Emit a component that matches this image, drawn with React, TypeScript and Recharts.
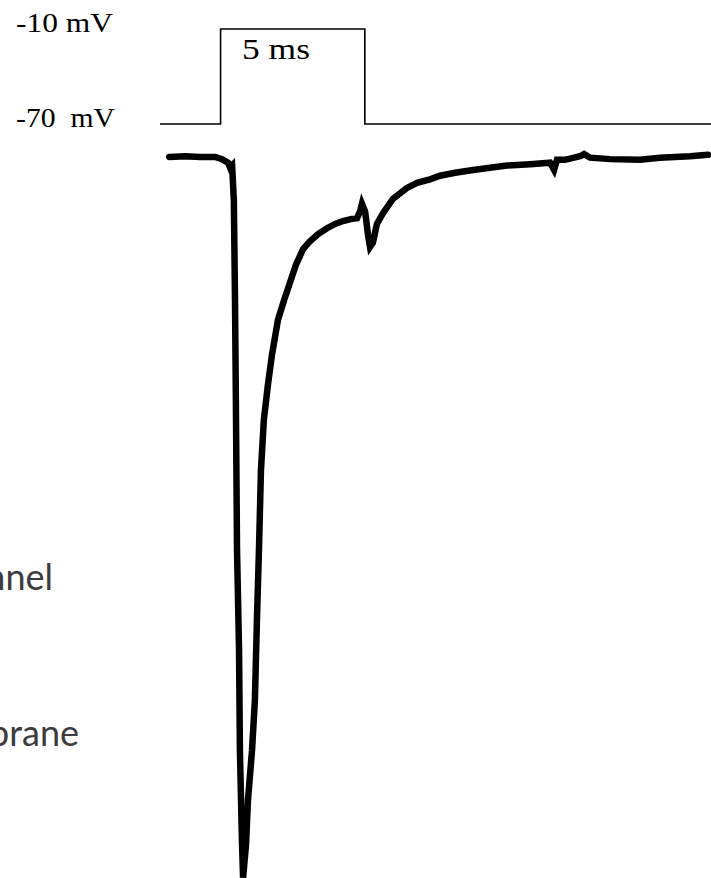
import { LineChart, Line, XAxis, YAxis } from 'recharts'

// voltage step protocol: holding -70 mV, 5 ms step to -10 mV (time in ms)
const stepTime = [-2.1, 0, 0, 5, 5, 17]
const stepVoltage = [-70, -70, -10, -10, -70, -70]

// evoked membrane current (pA) sampled along the same time base
const traceTime = [
  -1.78, -1.23, -0.71, -0.19, 0.05, 0.26, 0.33, 0.40, 0.46, 0.50, 0.53, 0.57, 0.64, 0.67, 0.74, 0.78,
  0.88, 0.95, 1.09, 1.19, 1.26, 1.33, 1.40, 1.50, 1.64, 1.78, 1.99, 2.20, 2.41, 2.61, 2.86, 3.10,
  3.38, 3.69, 3.97, 4.24, 4.55, 4.73, 4.83, 4.90, 5.01, 5.11, 5.18, 5.28, 5.42, 5.63, 5.98, 6.46,
  6.81, 7.26, 7.61, 8.13, 8.75, 9.34, 9.93, 10.73, 11.42, 11.56, 11.66, 11.94, 12.46, 12.60, 12.81,
  13.50, 14.54, 15.23, 15.75, 16.27, 16.90,
]
const traceCurrent = [
  0, 1, 0, 0, -3, -8, -15, -12, -60, -199, -338, -546, -685, -824, -949, -1001,
  -956, -893, -824, -754, -643, -546, -435, -365, -317, -275, -226, -199, -174, -150, -128, -117,
  -107, -99, -93, -89, -86, -85, -76, -65, -76, -108, -125, -119, -93, -78, -58, -43,
  -36, -31, -26, -22, -18, -15, -12, -10, -8, -18, -4, -4, 1, 4, -1,
  -3, -4, -1, 0, 1, 3,
]

const stepData = stepTime.map((t, i) => ({ t, v: stepVoltage[i] }))
const traceData = traceTime.map((t, i) => ({ t, i: traceCurrent[i] }))

const voltLabels: Record<number, { text: string; width: number }> = {
  [-10]: { text: '-10 mV', width: 97 },
  [-70]: { text: '-70  mV', width: 99 },
}

function VoltTick({ y, payload }: any) {
  const lab = voltLabels[payload.value]
  if (!lab) return null
  return (
    <text x={16} y={y + 3} fontFamily="'Liberation Serif', 'Times New Roman', serif" fontSize={27}
      fill="#000" textLength={lab.width} lengthAdjust="spacingAndGlyphs" xmlSpace="preserve">
      {lab.text}
    </text>
  )
}

export default function App() {
  return (
    <div style={{ position: 'absolute', left: 0, top: 0, width: 711, height: 878, background: '#fff' }}>
      <LineChart width={711} height={878} margin={{ top: 0, right: 0, bottom: 0, left: 0 }}>
        <XAxis dataKey="t" type="number" domain={[-2.1, 17]} allowDataOverflow hide />
        <YAxis yAxisId="v" domain={[-546.2, 8.32]} allowDataOverflow width={160}
          ticks={[-70, -10]} interval={0} axisLine={false} tickLine={false}
          tick={(props: any) => <VoltTick {...props} />} />
        <YAxis yAxisId="i" domain={[-1001.4, 218]} allowDataOverflow hide />
        <Line yAxisId="v" data={stepData} dataKey="v" type="linear" stroke="#000" strokeWidth={1.6}
          dot={false} activeDot={false} isAnimationActive={false} />
        <Line yAxisId="i" data={traceData} dataKey="i" type="linear" stroke="#000" strokeWidth={6.5}
          strokeLinecap="round" dot={false} activeDot={false} isAnimationActive={false} />
      </LineChart>
      <svg width={711} height={878} style={{ position: 'absolute', left: 0, top: 0, pointerEvents: 'none' }}>
        <text x={242} y={59} fontFamily="'Liberation Serif', 'Times New Roman', serif" fontSize={30}
          textLength={68} lengthAdjust="spacingAndGlyphs">5 ms</text>
        <g fontFamily="Lato, 'Noto Sans', sans-serif" fontSize={36} fill="#3c3c3c" textAnchor="end">
          <text x={53} y={590}>channel</text>
          <text x={79} y={746}>membrane</text>
        </g>
      </svg>
    </div>
  )
}
